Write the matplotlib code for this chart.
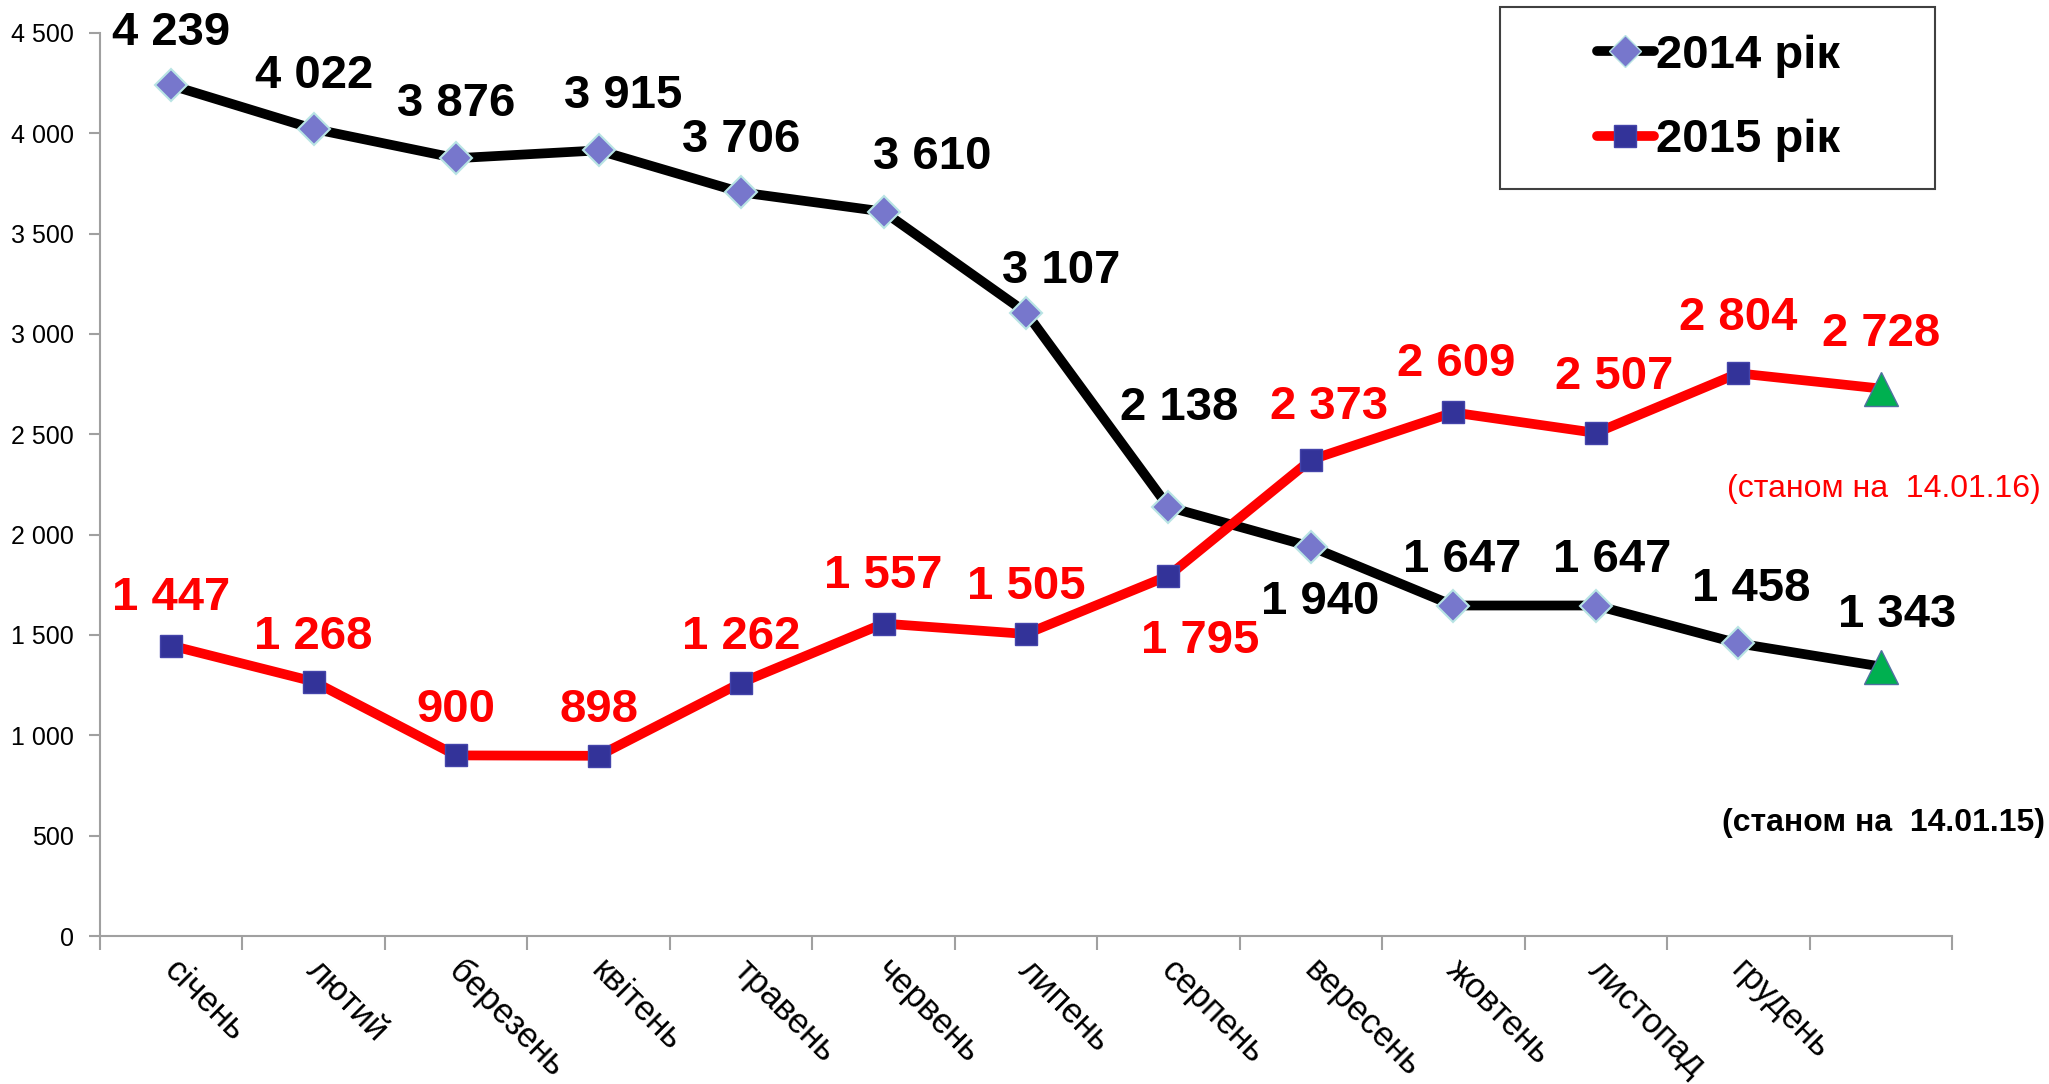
import numpy as np
import matplotlib
matplotlib.use('Agg')
import matplotlib.pyplot as plt
import matplotlib.transforms as mtransforms
from matplotlib.lines import Line2D
from matplotlib.patches import Rectangle

plt.rcParams['font.family'] = ['Liberation Sans', 'DejaVu Sans']

months = ['січень', 'лютий', 'березень', 'квітень', 'травень', 'червень',
          'липень', 'серпень', 'вересень', 'жовтень', 'листопад', 'грудень', '']
v2014 = [4239, 4022, 3876, 3915, 3706, 3610, 3107, 2138, 1940, 1647, 1647, 1458, 1343]
v2015 = [1447, 1268, 900, 898, 1262, 1557, 1505, 1795, 2373, 2609, 2507, 2804, 2728]
yticks = [0, 500, 1000, 1500, 2000, 2500, 3000, 3500, 4000, 4500]

# label offsets in points (dx, dy)
off14 = [(0, 38), (0, 38), (0, 39), (18, 39), (0, 38), (35, 39), (25, 30),
         (8, 71), (7, -40), (6, 33), (12, 33), (9, 39), (12, 37)]
off15 = [(0, 34), (0, 32), (0, 33), (0, 33), (0, 33), (0, 34), (0, 34),
         (23, -47), (13, 38), (2, 35), (13, 40), (0, 40), (0, 39)]

def fmt(v):
    return f'{v:,}'.replace(',', ' ')

fig = plt.figure(figsize=(20.49, 10.84), dpi=100)
ax = fig.add_axes([100/2049, 1-936/1084, 1852/2049, 903/1084])

x = np.arange(len(months))

ax.plot(x, v2014, color='black', lw=7, solid_capstyle='round', zorder=2)
ax.plot(x[:-1], v2014[:-1], ls='none', marker='D', ms=16, mfc='#7777CC',
        mec='#B8E4E4', mew=1.5, zorder=4)
ax.plot(x, v2015, color='red', lw=7, solid_capstyle='round', zorder=3)
ax.plot(x[:-1], v2015[:-1], ls='none', marker='s', ms=16, mfc='#333399',
        mec='#4444AA', mew=1, zorder=4)
ax.plot([x[-1], x[-1]], [v2014[-1], v2015[-1]], ls='none', marker='^', ms=24,
        mfc='#00B050', mec='#5070A0', mew=1, zorder=5)

for i in range(len(x)):
    ax.annotate(fmt(v2014[i]), (x[i], v2014[i]), xytext=off14[i],
                textcoords='offset points', ha='center', va='center',
                fontsize=34, fontweight='bold', color='black', zorder=6)
    ax.annotate(fmt(v2015[i]), (x[i], v2015[i]), xytext=off15[i],
                textcoords='offset points', ha='center', va='center',
                fontsize=34, fontweight='bold', color='red', zorder=6)

ax.annotate('(станом на  14.01.16)', (x[-1], v2015[-1]), xytext=(2, -72),
            textcoords='offset points', ha='center', va='center',
            fontsize=23, color='red')
ax.annotate('(станом на  14.01.15)', (x[-1], v2014[-1]), xytext=(2, -113),
            textcoords='offset points', ha='center', va='center',
            fontsize=23, fontweight='bold', color='black', annotation_clip=False)

ax.set_xlim(-0.5, len(months) - 0.5)
ax.set_ylim(0, 4500)
ax.set_yticks(yticks)
ax.set_yticklabels([fmt(v) for v in yticks], fontsize=18)
ax.set_xticks(np.arange(-0.5, len(months), 1))
ax.set_xticklabels([])
ax.set_xticks(x, minor=True)
ax.set_xticklabels(months, minor=True, rotation=-45, ha='left', va='top',
                   rotation_mode='anchor', fontsize=25)
ax.tick_params(axis='x', which='minor', length=0, pad=13)
ax.tick_params(axis='x', which='major', length=10, width=1.5, color='#A0A0A0')
ax.tick_params(axis='y', length=8, width=1.5, color='#A0A0A0', pad=11)

shift = mtransforms.ScaledTranslation(7/72, 0, fig.dpi_scale_trans)
for lab in ax.get_xticklabels(minor=True):
    lab.set_transform(lab.get_transform() + shift)

for s in ['top', 'right']:
    ax.spines[s].set_visible(False)
for s in ['left', 'bottom']:
    ax.spines[s].set_color('#A0A0A0')
    ax.spines[s].set_linewidth(1.5)

# legend box
fig.patches.append(Rectangle((1500/2049, 1-189/1084), 435/2049, 182/1084,
                             transform=fig.transFigure, fill=False,
                             edgecolor='#404040', lw=1.5))
h1 = Line2D([], [], color='black', lw=7, solid_capstyle='round', marker='D', ms=16,
            mfc='#7777CC', mec='#B8E4E4')
h2 = Line2D([], [], color='red', lw=7, solid_capstyle='round', marker='s', ms=16,
            mfc='#333399', mec='#4444AA')
fig.legend([h1, h2], ['2014 рік', '2015 рік'], loc='center left',
           bbox_to_anchor=(1597/2049, 1-98/1084), prop={'size': 34, 'weight': 'bold'},
           handlelength=1.2, handletextpad=0.05, labelspacing=0.85,
           borderpad=0, borderaxespad=0, frameon=False)

fig.savefig('out.png', dpi=100)
